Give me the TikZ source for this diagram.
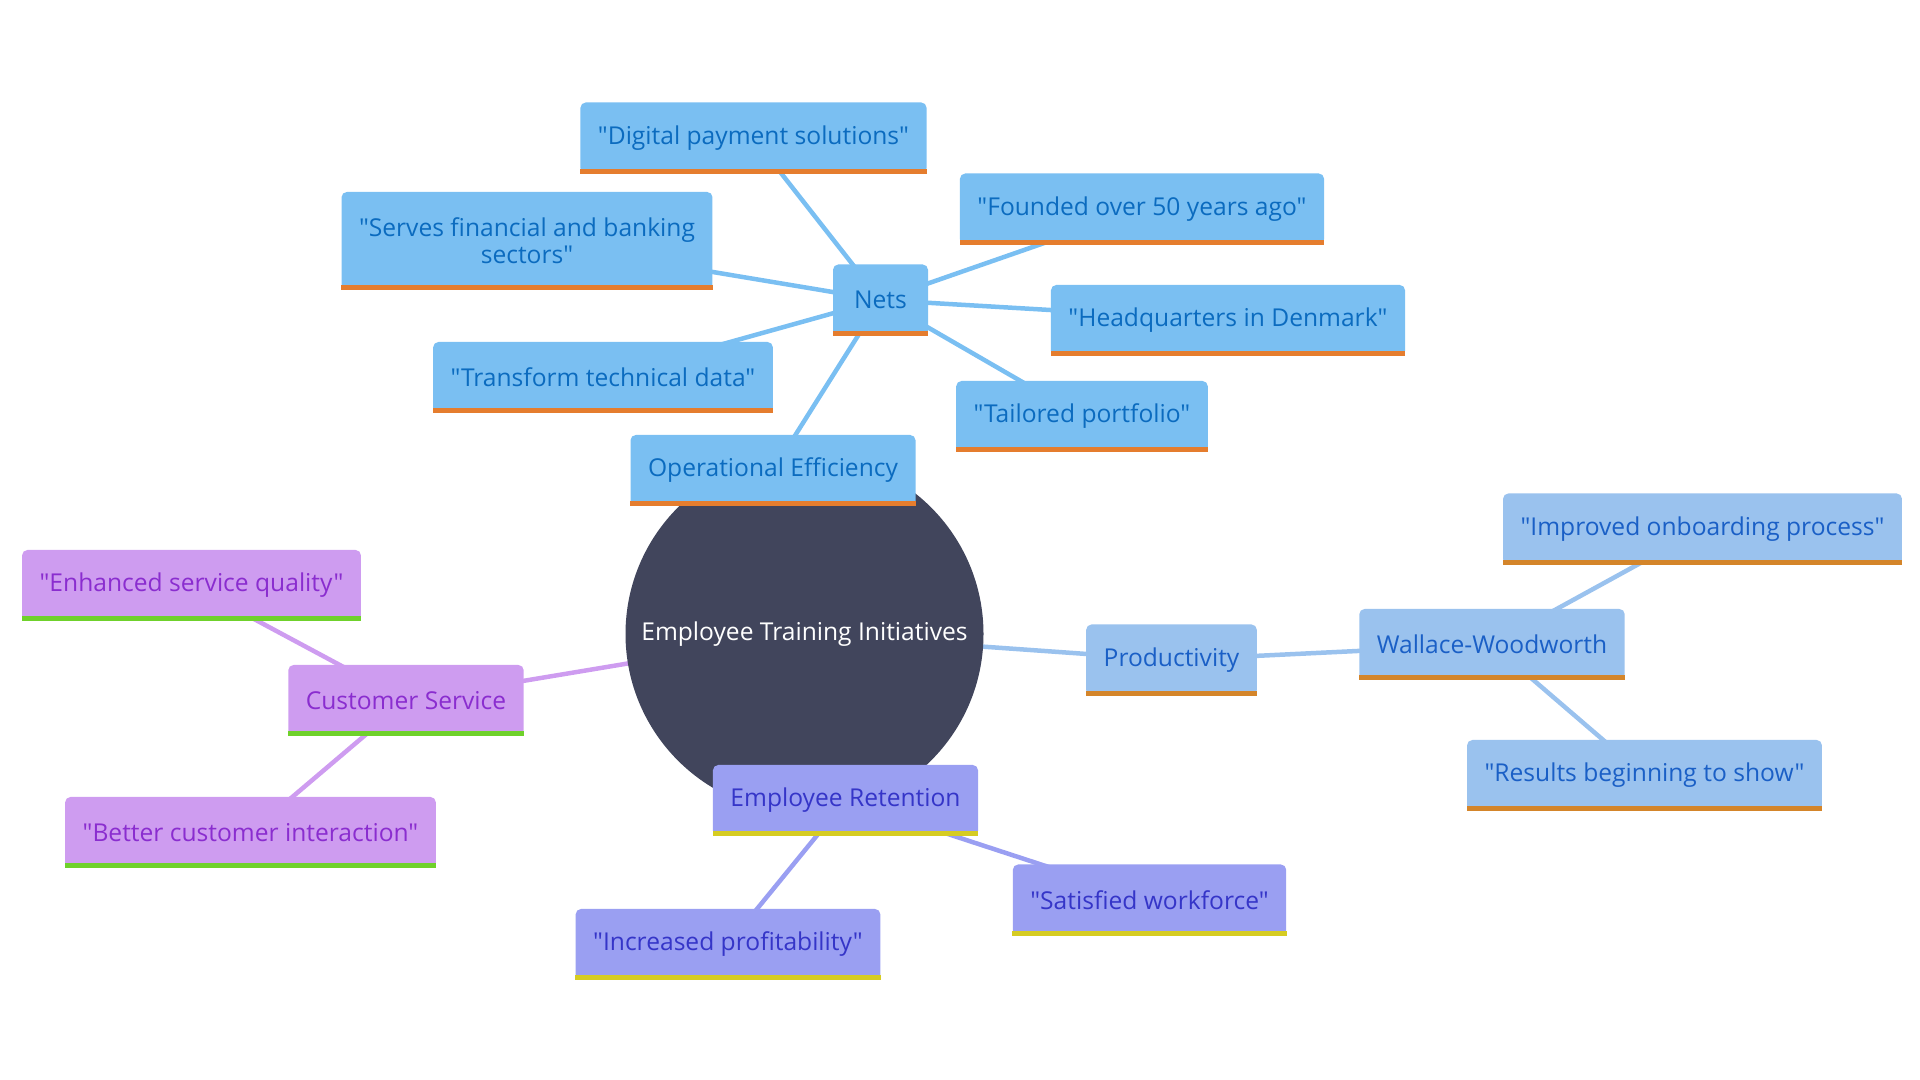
\documentclass[tikz,border=0pt]{standalone}
\usepackage{fontspec}
\setmainfont{Open Sans}[Ligatures=TeXOff]
\definecolor{hubfill}{HTML}{41455C}
\definecolor{netsfill}{HTML}{7ABFF2}
\definecolor{netstext}{HTML}{0B6BBF}
\definecolor{netsbar}{HTML}{E57D2E}
\definecolor{prodfill}{HTML}{9AC2EE}
\definecolor{prodtext}{HTML}{1A5FC6}
\definecolor{prodbar}{HTML}{D4852A}
\definecolor{custfill}{HTML}{CE9CF0}
\definecolor{custtext}{HTML}{8A2DCF}
\definecolor{custbar}{HTML}{6FD12B}
\definecolor{retfill}{HTML}{9A9FF2}
\definecolor{rettext}{HTML}{3535C8}
\definecolor{retbar}{HTML}{D6CC22}
\usetikzlibrary{backgrounds}

\begin{document}
\begin{tikzpicture}[
    topic/.style={rectangle, rounded corners=3pt, inner xsep=0.35cm, minimum width=1.9cm, minimum height=1.42cm, font=\fontsize{14}{15.5}\selectfont, align=center},
    netsbox/.style={topic, fill=netsfill, text=netstext},
    prodbox/.style={topic, fill=prodfill, text=prodtext},
    custbox/.style={topic, fill=custfill, text=custtext},
    retbox/.style={topic, fill=retfill, text=rettext},
    link/.style={line width=0.09cm}
]
    \useasboundingbox (0,0) rectangle (38.4,21.6);

    % Centre
    \node[circle, fill=hubfill, text=white, minimum size=7.16cm, inner sep=0pt, font=\fontsize{14}{15.5}\selectfont] (hub) at (16.09,8.92) {Employee Training Initiatives};

    % Operational efficiency branch
    \node[netsbox] (opeff) at (15.46,12.19) {Operational Efficiency};
    \node[netsbox] (nets) at (17.61,15.60) {Nets};
    \node[netsbox] (digital) at (15.07,18.84) {"Digital payment solutions"};
    \node[netsbox, minimum height=1.96cm] (serves) at (10.54,16.78) {"Serves financial and banking\\sectors"};
    \node[netsbox] (transform) at (12.06,14.05) {"Transform technical data"};
    \node[netsbox] (founded) at (22.84,17.42) {"Founded over 50 years ago"};
    \node[netsbox] (hq) at (24.56,15.19) {"Headquarters in Denmark"};
    \node[netsbox] (tailored) at (21.64,13.27) {"Tailored portfolio"};

    % Productivity branch
    \node[prodbox] (prod) at (23.43,8.40) {Productivity};
    \node[prodbox] (wallace) at (29.84,8.71) {Wallace-Woodworth};
    \node[prodbox] (onboard) at (34.05,11.02) {"Improved onboarding process"};
    \node[prodbox] (results) at (32.89,6.09) {"Results beginning to show"};

    % Customer service branch
    \node[custbox] (cust) at (8.12,7.59) {Customer Service};
    \node[custbox] (quality) at (3.83,9.89) {"Enhanced service quality"};
    \node[custbox] (interact) at (5.01,4.95) {"Better customer interaction"};

    % Retention branch
    \node[retbox] (retain) at (16.91,5.59) {Employee Retention};
    \node[retbox] (satisfied) at (22.99,3.60) {"Satisfied workforce"};
    \node[retbox] (profit) at (14.56,2.71) {"Increased profitability"};

    % Bottom bars
    \foreach \b in {opeff,nets,digital,serves,transform,founded,hq,tailored} \fill[netsbar] (\b.south west) rectangle ([yshift=0.1cm]\b.south east);
    \foreach \b in {prod,wallace,onboard,results} \fill[prodbar] (\b.south west) rectangle ([yshift=0.1cm]\b.south east);
    \foreach \b in {cust,quality,interact} \fill[custbar] (\b.south west) rectangle ([yshift=0.1cm]\b.south east);
    \foreach \b in {retain,satisfied,profit} \fill[retbar] (\b.south west) rectangle ([yshift=0.1cm]\b.south east);

    % Links
    \begin{scope}[on background layer]
        \draw[link, netsfill] (hub.center) -- (opeff.center);
        \draw[link, netsfill] (opeff.center) -- (nets.center);
        \foreach \n in {digital,serves,transform,founded,hq,tailored} \draw[link, netsfill] (nets.center) -- (\n.center);
        \draw[link, prodfill] (hub.center) -- (prod.center);
        \draw[link, prodfill] (prod.center) -- (wallace.center);
        \foreach \n in {onboard,results} \draw[link, prodfill] (wallace.center) -- (\n.center);
        \draw[link, custfill] (hub.center) -- (cust.center);
        \foreach \n in {quality,interact} \draw[link, custfill] (cust.center) -- (\n.center);
        \draw[link, retfill] (hub.center) -- (retain.center);
        \foreach \n in {satisfied,profit} \draw[link, retfill] (retain.center) -- (\n.center);
    \end{scope}
\end{tikzpicture}
\end{document}
